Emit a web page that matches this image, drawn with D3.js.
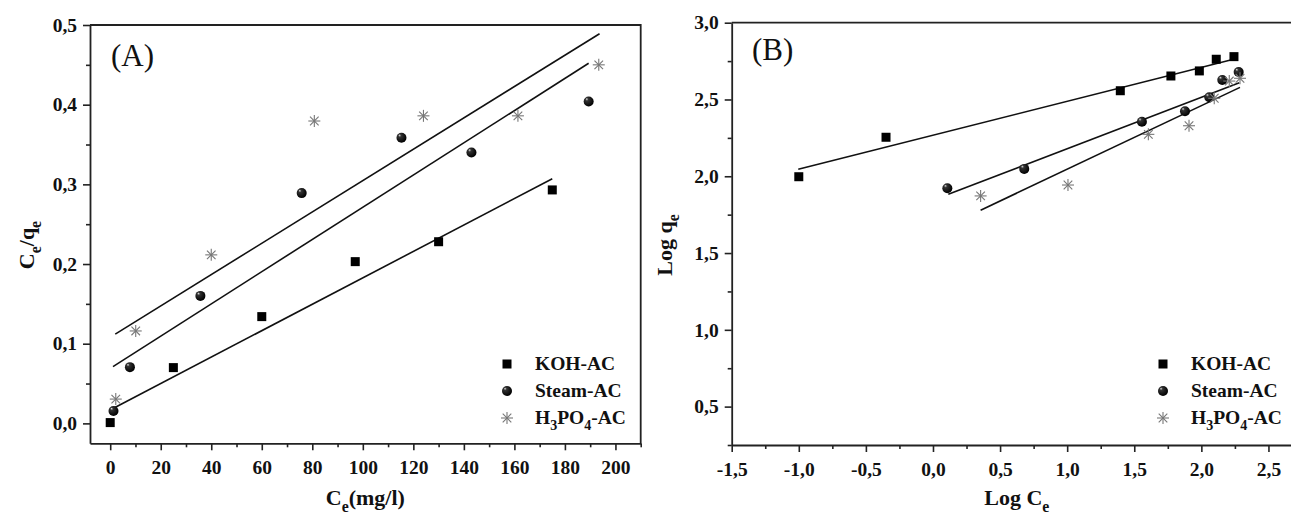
<!DOCTYPE html>
<html>
<head>
<meta charset="utf-8">
<script src="https://cdn.jsdelivr.net/npm/d3@7"></script>
<style>
  body { margin: 0; background: #fff; }
  svg { display: block; font-family: "Liberation Serif", "Times New Roman", serif; }
</style>
</head>
<body>
<div id="chart"></div>
<script>
// series names
var seriesNames = ["KOH-AC", "Steam-AC", "H3PO4-AC"];

// panel A : Ce/qe vs Ce
var aKohX = [0, 25, 60, 97, 130, 175];
var aKohY = [0.001, 0.07, 0.134, 0.203, 0.228, 0.293];
var aSteamX = [1.3, 7.8, 35.7, 75.8, 115.3, 143, 189.4];
var aSteamY = [0.0155, 0.0706, 0.16, 0.289, 0.3585, 0.34, 0.404];
var aH3po4X = [2.2, 10.1, 40, 80.8, 124, 161.4, 193.4];
var aH3po4Y = [0.0305, 0.116, 0.2115, 0.3795, 0.386, 0.386, 0.45];
// fitted lines [x0, y0, x1, y1]
var aKohFit = [1.3, 0.019, 175, 0.307];
var aSteamFit = [1.1, 0.0713, 189.4, 0.452];
var aH3po4Fit = [2, 0.112, 193.7, 0.489];
var aXTicks = [0, 20, 40, 60, 80, 100, 120, 140, 160, 180, 200];
var aYTicks = [0, 0.1, 0.2, 0.3, 0.4, 0.5];

// panel B : Log qe vs Log Ce
var bKohX = [-1.0, -0.35, 1.396, 1.773, 1.985, 2.111, 2.243];
var bKohY = [1.997, 2.254, 2.557, 2.653, 2.686, 2.762, 2.779];
var bSteamX = [0.107, 0.68, 1.557, 1.878, 2.059, 2.156, 2.278];
var bSteamY = [1.922, 2.048, 2.355, 2.423, 2.514, 2.627, 2.679];
var bH3po4X = [0.355, 1.006, 1.605, 1.908, 2.096, 2.208, 2.288];
var bH3po4Y = [1.872, 1.943, 2.273, 2.329, 2.508, 2.62, 2.638];
var bKohFit = [-1.004, 2.046, 2.218, 2.757];
var bSteamFit = [0.114, 1.883, 2.283, 2.609];
var bH3po4Fit = [0.355, 1.779, 2.288, 2.579];
var bXTicks = [-1.5, -1.0, -0.5, 0.0, 0.5, 1.0, 1.5, 2.0, 2.5];
var bYTicks = [0.5, 1.0, 1.5, 2.0, 2.5, 3.0];

var svgWidth = 1291;
var svgHeight = 516;

var svg = d3.select("#chart")
    .append("svg")
    .attr("width", svgWidth)
    .attr("height", svgHeight);

var defs = svg.append("defs");
var grad = defs.append("radialGradient")
    .attr("id", "ball")
    .attr("cx", "0.4").attr("cy", "0.4").attr("r", "0.6")
    .attr("fx", "0.3").attr("fy", "0.25");
grad.append("stop").attr("offset", "0").attr("stop-color", "#ddd");
grad.append("stop").attr("offset", "0.25").attr("stop-color", "#333");
grad.append("stop").attr("offset", "1").attr("stop-color", "#000");

var comma1 = function(d) { return d3.format(".1f")(d).replace(".", ",").replace("\u2212", "-"); };
var int0 = function(d) { return d3.format("d")(d); };

function drawMarker(g, kind, x, y) {
    if (kind === 0) {
        g.append("rect")
            .attr("x", x - 4.5).attr("y", y - 4.5)
            .attr("width", 9).attr("height", 9)
            .attr("fill", "#000");
    } else if (kind === 1) {
        g.append("circle")
            .attr("cx", x).attr("cy", y).attr("r", 5)
            .attr("fill", "url(#ball)");
    } else {
        var s = 6, t = 4.3;
        var star = g.append("g").attr("stroke", "#777").attr("stroke-width", 1.1);
        star.append("line").attr("x1", x).attr("y1", y - s).attr("x2", x).attr("y2", y + s);
        star.append("line").attr("x1", x - s).attr("y1", y).attr("x2", x + s).attr("y2", y);
        star.append("line").attr("x1", x - t).attr("y1", y - t).attr("x2", x + t).attr("y2", y + t);
        star.append("line").attr("x1", x - t).attr("y1", y + t).attr("x2", x + t).attr("y2", y - t);
    }
}

// text with subscripts: parts = [[text, isSub], ...]
function subText(sel, parts, size) {
    parts.forEach(function(p, i) {
        var prevSub = i > 0 && parts[i - 1][1];
        var dy = 0;
        if (p[1] && !prevSub) dy = size * 0.3;
        if (!p[1] && prevSub) dy = -size * 0.3;
        sel.append("tspan")
            .attr("dy", dy)
            .attr("font-size", p[1] ? size * 0.72 : size)
            .text(p[0]);
    });
}

var legendParts = [
    [["KOH-AC", false]],
    [["Steam-AC", false]],
    [["H", false], ["3", true], ["PO", false], ["4", true], ["-AC", false]]
];

function drawPanel(p) {
    var x = d3.scaleLinear().domain(p.xDomain).range([p.left, p.right]);
    var y = d3.scaleLinear().domain(p.yDomain).range([p.bottom, p.top]);

    var g = svg.append("g");

    // minor ticks
    g.append("g")
        .attr("transform", `translate(0, ${p.bottom})`)
        .call(d3.axisBottom(x).tickValues(p.xMinor).tickSize(4).tickFormat(""))
        .call(function(a) { a.select(".domain").remove(); });
    g.append("g")
        .attr("transform", `translate(${p.left}, 0)`)
        .call(d3.axisLeft(y).tickValues(p.yMinor).tickSize(4).tickFormat(""))
        .call(function(a) { a.select(".domain").remove(); });

    var xAxis = g.append("g")
        .attr("transform", `translate(0, ${p.bottom})`)
        .call(d3.axisBottom(x).tickValues(p.xTicks).tickSize(7).tickPadding(10)
            .tickFormat(p.xFormat).tickSizeOuter(0));
    var yAxis = g.append("g")
        .attr("transform", `translate(${p.left}, 0)`)
        .call(d3.axisLeft(y).tickValues(p.yTicks).tickSize(7).tickPadding(6)
            .tickFormat(p.yFormat).tickSizeOuter(0));

    g.selectAll(".tick line").attr("stroke", "#222").attr("stroke-width", 1.6);
    g.selectAll(".domain").attr("stroke", "#222").attr("stroke-width", 1.8);
    g.selectAll(".tick text")
        .attr("font-family", "Liberation Serif, serif")
        .attr("font-weight", "bold")
        .attr("font-size", 19.5)
        .attr("fill", "#111");

    // frame top / right
    g.append("path")
        .attr("d", `M${p.left},${p.top}H${p.right}V${p.bottom}`)
        .attr("fill", "none")
        .attr("stroke", "#222")
        .attr("stroke-width", 1.8);

    // fitted lines
    p.fits.forEach(function(f) {
        g.append("line")
            .attr("x1", x(f[0])).attr("y1", y(f[1]))
            .attr("x2", x(f[2])).attr("y2", y(f[3]))
            .attr("stroke", "#111")
            .attr("stroke-width", 1.6);
    });

    // points
    p.series.forEach(function(s, k) {
        s[0].forEach(function(xv, i) {
            drawMarker(g, k, x(xv), y(s[1][i]));
        });
    });

    // panel letter
    g.append("text")
        .attr("x", p.letterX).attr("y", p.letterY)
        .attr("font-size", 31)
        .attr("fill", "#111")
        .text(p.letter);

    // axis titles
    var xt = g.append("text")
        .attr("x", (p.left + p.xTitleRight) / 2)
        .attr("y", 505)
        .attr("text-anchor", "middle")
        .attr("font-weight", "bold")
        .attr("fill", "#111");
    subText(xt, p.xTitle, 22);

    var yt = g.append("text")
        .attr("transform", `translate(${p.yTitleX}, 245) rotate(-90)`)
        .attr("text-anchor", "middle")
        .attr("font-weight", "bold")
        .attr("fill", "#111");
    subText(yt, p.yTitle, 22);

    // legend
    var lg = g.append("g");
    legendParts.forEach(function(parts, i) {
        var ly = p.legendY + i * 27;
        drawMarker(lg, i, p.legendX, ly - 6);
        var t = lg.append("text")
            .attr("x", p.legendX + 28)
            .attr("y", ly)
            .attr("font-weight", "bold")
            .attr("fill", "#111");
        subText(t, parts, 19.5);
    });
}

function minorTicks(lo, hi, step) {
    var out = [];
    for (var v = lo; v <= hi + 1e-9; v += step) out.push(+v.toFixed(4));
    return out;
}

drawPanel({
    left: 90, right: 640.7, top: 25, bottom: 443.3,
    xDomain: [-8, 210], yDomain: [-0.025, 0.5],
    xTicks: aXTicks, yTicks: aYTicks,
    xMinor: minorTicks(10, 210, 20), yMinor: minorTicks(0.05, 0.45, 0.1),
    xFormat: int0, yFormat: comma1,
    series: [[aKohX, aKohY], [aSteamX, aSteamY], [aH3po4X, aH3po4Y]],
    fits: [aKohFit, aSteamFit, aH3po4Fit],
    letter: "(A)", letterX: 111, letterY: 66,
    xTitle: [["C", false], ["e", true], ["(mg/l)", false]], xTitleRight: 640.7,
    yTitle: [["C", false], ["e", true], ["/q", false], ["e", true]], yTitleX: 34,
    legendX: 507, legendY: 370
});

drawPanel({
    left: 731.7, right: 1302, top: 22.7, bottom: 445,
    xDomain: [-1.5, 2.75], yDomain: [0.25, 3.0],
    xTicks: bXTicks, yTicks: bYTicks,
    xMinor: minorTicks(-1.25, 2.75, 0.5), yMinor: minorTicks(0.25, 2.75, 0.5),
    xFormat: comma1, yFormat: comma1,
    series: [[bKohX, bKohY], [bSteamX, bSteamY], [bH3po4X, bH3po4Y]],
    fits: [bKohFit, bSteamFit, bH3po4Fit],
    letter: "(B)", letterX: 752, letterY: 60,
    xTitle: [["Log C", false], ["e", true]], xTitleRight: 1302,
    yTitle: [["Log q", false], ["e", true]], yTitleX: 672,
    legendX: 1163, legendY: 370
});
</script>
</body>
</html>
